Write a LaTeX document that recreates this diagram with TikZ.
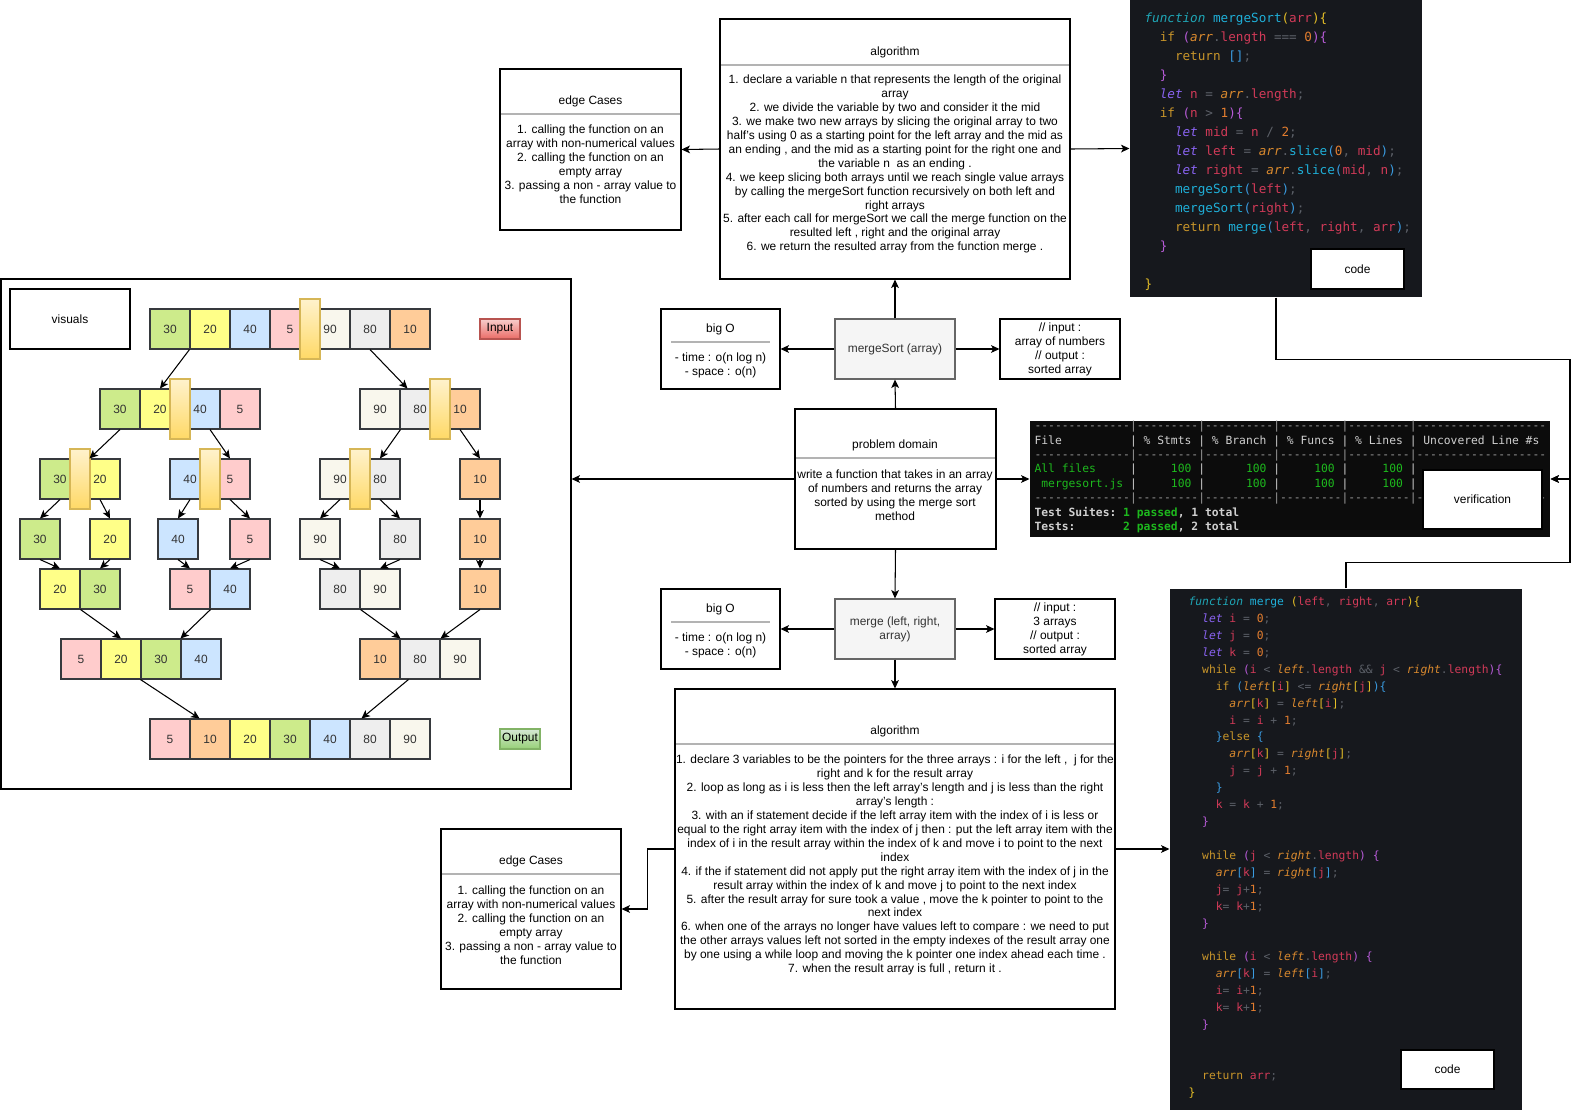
\documentclass[tikz,border=0pt]{standalone}
\usepackage{fontspec}
\setmainfont{Liberation Sans}
\setmonofont{DejaVu Sans Mono}
\usetikzlibrary{positioning,calc,fit,arrows.meta}

\definecolor{c30}{HTML}{CDEB8B}
\definecolor{c20}{HTML}{FFFF88}
\definecolor{c40}{HTML}{CCE5FF}
\definecolor{c5}{HTML}{FFCCCC}
\definecolor{c90}{HTML}{F9F7ED}
\definecolor{c80}{HTML}{EEEEEE}
\definecolor{c10}{HTML}{FFCC99}
\definecolor{cellline}{HTML}{36393D}
\definecolor{bartop}{HTML}{FFF2CC}
\definecolor{barbot}{HTML}{FFD966}
\definecolor{barline}{HTML}{D6B656}
\definecolor{intop}{HTML}{F8CECC}
\definecolor{inbot}{HTML}{EA6B66}
\definecolor{inedge}{HTML}{B85450}
\definecolor{outtop}{HTML}{D5E8D4}
\definecolor{outbot}{HTML}{97D077}
\definecolor{outedge}{HTML}{82B366}
\definecolor{fnfill}{HTML}{F5F5F5}
\definecolor{fnline}{HTML}{666666}
\definecolor{fntext}{HTML}{333333}
\definecolor{sepline}{HTML}{B3B3B3}
\definecolor{codebg}{HTML}{16181D}
\definecolor{tabbg}{HTML}{0C0C0C}
\definecolor{cfunc}{HTML}{1FA5B5}
\definecolor{cname}{HTML}{1FAFD8}
\definecolor{ckey}{HTML}{C8952A}
\definecolor{clet}{HTML}{8A63F2}
\definecolor{cvar}{HTML}{D13A58}
\definecolor{carr}{HTML}{D9892E}
\definecolor{cop}{HTML}{5C6068}
\definecolor{cnum}{HTML}{E27D2F}
\definecolor{cgold}{HTML}{E5BE27}
\definecolor{cpurp}{HTML}{B85BD8}
\definecolor{cblue}{HTML}{3A9BE0}
\definecolor{tgreen}{HTML}{1DB81D}
\definecolor{tdash}{HTML}{9A9A9A}
\definecolor{ttext}{HTML}{D0D0D0}

% code colouring
\newcommand{\kF}[1]{\textcolor{cfunc}{\itshape #1}}
\newcommand{\kN}[1]{\textcolor{cname}{#1}}
\newcommand{\kK}[1]{\textcolor{ckey}{#1}}
\newcommand{\kL}[1]{\textcolor{clet}{\itshape #1}}
\newcommand{\kV}[1]{\textcolor{cvar}{#1}}
\newcommand{\kA}[1]{\textcolor{carr}{\itshape #1}}
\newcommand{\kO}[1]{\textcolor{cop}{#1}}
\newcommand{\kD}[1]{\textcolor{cnum}{#1}}
\newcommand{\kY}[1]{\textcolor{cgold}{#1}}
\newcommand{\kP}[1]{\textcolor{cpurp}{#1}}
\newcommand{\kB}[1]{\textcolor{cblue}{#1}}
\newcommand{\indt}[1]{\hspace*{#1\fontcharwd\font`\x}}
\newcommand{\okg}[1]{\textcolor{tgreen}{#1}}
\ExplSyntaxOn
\NewDocumentCommand{\reps}{mm}{\prg_replicate:nn{#1}{#2}}
\ExplSyntaxOff
\newcommand{\dashrow}{\textcolor{tdash}{\reps{14}{{-}}|\reps{9}{{-}}|\reps{10}{{-}}|\reps{9}{{-}}|\reps{9}{{-}}|\reps{19}{{-}}}}

\begin{document}
\begin{tikzpicture}[x=0.02cm,y=-0.02cm,line width=0.6pt,
 font=\fontsize{6.8}{7.95}\selectfont,
 >={Stealth[length=4.8pt,width=4.4pt,inset=1.2pt]},
 box/.style={draw,fill=white,inner sep=0pt},
 fnbox/.style={draw=fnline,fill=fnfill,inner sep=0pt},
 txt/.style={align=center,inner sep=0pt},
 divider/.style={draw=sepline},
 cell/.style={draw=cellline,minimum size=0.8cm,inner sep=0pt,text=black!80},
 slicebar/.style={draw=barline,top color=bartop,bottom color=barbot,minimum width=0.4cm,minimum height=1.2cm,inner sep=0pt},
 lbltag/.style={draw,minimum width=0.8cm,minimum height=0.4cm,inner sep=0pt},
 codebox/.style={inner sep=0pt}]
\useasboundingbox (0,0) rectangle (1579,1110);

% mergeSort side
\node[box,fit={(500,69)(681,230)}] (edge1) {};
\node[txt] (edge1t) at (590.5,101) {edge Cases};
\draw[divider] (501,114) -- (680,114);
\node[txt] (edge1b) at (590.5,164) {1. calling the function on an\\array with non-numerical values\\2. calling the function on an\\empty array\\3. passing a non - array value to\\the function};

\node[box,fit={(720,19)(1070,279)}] (algo1) {};
\node[txt] (algo1t) at (895,52) {algorithm};
\draw[divider] (721,65) -- (1069,65);
\node[txt] (algo1b) at (895,164) {1. declare a variable n that represents the length of the original\\array\\2. we divide the variable by two and consider it the mid\\3. we make two new arrays by slicing the original array to two\\half's using 0 as a starting point for the left array and the mid as\\an ending , and the mid as a starting point for the right one and\\the variable n\ \ as an ending .\\4. we keep slicing both arrays until we reach single value arrays\\by calling the mergeSort function recursively on both left and\\right arrays\\5. after each call for mergeSort we call the merge function on the\\resulted left , right and the original array\\6. we return the resulted array from the function merge .};

\node[box,fit={(661,309)(780,389)}] (big1) {};
\node[txt] (big1t) at (720.5,329) {big O};
\draw[divider] (671,342) -- (770,342);
\node[txt] (big1b) at (720.5,365) {- time : o(n log n)\\- space : o(n)};

\node[fnbox,fit={(835,319)(955,379)}] (ms) {};
\node[txt,text=fntext] (mst) at (ms.center) {mergeSort (array)};
\node[box,fit={(1000,319)(1120,379)}] (io1) {};
\node[txt] (io1t) at (io1.center) {// input :\\array of numbers\\// output :\\sorted array};

\node[box,fit={(795,409)(996,549)}] (pd) {};
\node[txt] (pdt) at (895,445) {problem domain};
\draw[divider] (796,458) -- (995,458);
\node[txt] (pdb) at (895,495) {write a function that takes in an array\\of numbers and returns the array\\sorted by using the merge sort\\method};

% merge side
\node[box,fit={(661,589)(780,669)}] (big2) {};
\node[txt] (big2t) at (720.5,609) {big O};
\draw[divider] (671,622) -- (770,622);
\node[txt] (big2b) at (720.5,645) {- time : o(n log n)\\- space : o(n)};

\node[fnbox,fit={(835,599)(955,659)}] (mg) {};
\node[txt,text=fntext] (mgt) at (mg.center) {merge (left, right,\\array)};
\node[box,fit={(995,599)(1115,659)}] (io2) {};
\node[txt] (io2t) at (io2.center) {// input :\\3 arrays\\// output :\\sorted array};

\node[box,fit={(675,689)(1115,1009)}] (algo2) {};
\node[txt] (algo2t) at (895,731) {algorithm};
\draw[divider] (676,744) -- (1114,744);
\node[txt] (algo2b) at (895,865) {1. declare 3 variables to be the pointers for the three arrays : i for the left ,\ \ j for the\\right and k for the result array\\2. loop as long as i is less then the left array's length and j is less than the right\\array's length :\\3. with an if statement decide if the left array item with the index of i is less or\\equal to the right array item with the index of j then : put the left array item with the\\index of i in the result array within the index of k and move i to point to the next\\index\\4. if the if statement did not apply put the right array item with the index of j in the\\result array within the index of k and move j to point to the next index\\5. after the result array for sure took a value , move the k pointer to point to the\\next index\\6. when one of the arrays no longer have values left to compare : we need to put\\the other arrays values left not sorted in the empty indexes of the result array one\\by one using a while loop and moving the k pointer one index ahead each time .\\7. when the result array is full , return it .};

\node[box,fit={(441,829)(621,989)}] (edge2) {};
\node[txt] (edge2t) at (531,861) {edge Cases};
\draw[divider] (442,874) -- (620,874);
\node[txt] (edge2b) at (531,925) {1. calling the function on an\\array with non-numerical values\\2. calling the function on an\\empty array\\3. passing a non - array value to\\the function};

% code screenshots
\node[codebox,fill=codebg,fit={(1130,0)(1422,297)}] (code1) {};
\node[anchor=west,align=left,inner sep=0pt,font=\ttfamily\fontsize{7.2}{10.8}\selectfont] (src1) at (1144,152) {%
\kF{function} \kN{mergeSort}\kY{(}\kV{arr}\kY{)\{}\\
\indt{2}\kK{if} \kP{(}\kA{arr}\kO{.}\kV{length} \kO{===} \kD{0}\kP{)\{}\\
\indt{4}\kK{return} \kB{[]}\kO{;}\\
\indt{2}\kP{\}}\\
\indt{2}\kL{let} \kV{n} \kO{=} \kA{arr}\kO{.}\kV{length}\kO{;}\\
\indt{2}\kK{if} \kP{(}\kV{n} \kO{>} \kD{1}\kP{)\{}\\
\indt{4}\kL{let} \kV{mid} \kO{=} \kV{n} \kO{/} \kD{2}\kO{;}\\
\indt{4}\kL{let} \kV{left} \kO{=} \kA{arr}\kO{.}\kN{slice}\kB{(}\kD{0}\kO{,} \kV{mid}\kB{)}\kO{;}\\
\indt{4}\kL{let} \kV{right} \kO{=} \kA{arr}\kO{.}\kN{slice}\kB{(}\kV{mid}\kO{,} \kV{n}\kB{)}\kO{;}\\
\indt{4}\kN{mergeSort}\kB{(}\kV{left}\kB{)}\kO{;}\\
\indt{4}\kN{mergeSort}\kB{(}\kV{right}\kB{)}\kO{;}\\
\indt{4}\kK{return} \kN{merge}\kB{(}\kV{left}\kO{,} \kV{right}\kO{,} \kV{arr}\kB{)}\kO{;}\\
\indt{2}\kP{\}}\\
\mbox{}\\
\kY{\}}};
\node[box,fit={(1311,249)(1404,289)}] (code1l) {};
\node[txt] (code1lt) at (code1l.center) {code};

\node[codebox,fill=codebg,fit={(1170,589)(1522,1110)}] (code2) {};
\node[anchor=west,align=left,inner sep=0pt,font=\ttfamily\fontsize{6.45}{9.63}\selectfont] (src2) at (1188,847.5) {%
\kF{function} \kN{merge} \kY{(}\kV{left}\kO{,} \kV{right}\kO{,} \kV{arr}\kY{)\{}\\
\indt{2}\kL{let} \kV{i} \kO{=} \kD{0}\kO{;}\\
\indt{2}\kL{let} \kV{j} \kO{=} \kD{0}\kO{;}\\
\indt{2}\kL{let} \kV{k} \kO{=} \kD{0}\kO{;}\\
\indt{2}\kK{while} \kP{(}\kV{i} \kO{<} \kA{left}\kO{.}\kV{length} \kO{\&\&} \kV{j} \kO{<} \kA{right}\kO{.}\kV{length}\kP{)\{}\\
\indt{4}\kK{if} \kB{(}\kA{left}\kY{[}\kV{i}\kY{]} \kO{<=} \kA{right}\kY{[}\kV{j}\kY{]}\kB{)\{}\\
\indt{6}\kA{arr}\kY{[}\kV{k}\kY{]} \kO{=} \kA{left}\kY{[}\kV{i}\kY{]}\kO{;}\\
\indt{6}\kV{i} \kO{=} \kV{i} \kO{+} \kD{1}\kO{;}\\
\indt{4}\kB{\}}\kK{else} \kB{\{}\\
\indt{6}\kA{arr}\kY{[}\kV{k}\kY{]} \kO{=} \kA{right}\kY{[}\kV{j}\kY{]}\kO{;}\\
\indt{6}\kV{j} \kO{=} \kV{j} \kO{+} \kD{1}\kO{;}\\
\indt{4}\kB{\}}\\
\indt{4}\kV{k} \kO{=} \kV{k} \kO{+} \kD{1}\kO{;}\\
\indt{2}\kP{\}}\\
\mbox{}\\
\indt{2}\kK{while} \kP{(}\kV{j} \kO{<} \kA{right}\kO{.}\kV{length}\kP{)} \kP{\{}\\
\indt{4}\kA{arr}\kB{[}\kV{k}\kB{]} \kO{=} \kA{right}\kB{[}\kV{j}\kB{]}\kO{;}\\
\indt{4}\kV{j}\kO{=} \kV{j}\kO{+}\kD{1}\kO{;}\\
\indt{4}\kV{k}\kO{=} \kV{k}\kO{+}\kD{1}\kO{;}\\
\indt{2}\kP{\}}\\
\mbox{}\\
\indt{2}\kK{while} \kP{(}\kV{i} \kO{<} \kA{left}\kO{.}\kV{length}\kP{)} \kP{\{}\\
\indt{4}\kA{arr}\kB{[}\kV{k}\kB{]} \kO{=} \kA{left}\kB{[}\kV{i}\kB{]}\kO{;}\\
\indt{4}\kV{i}\kO{=} \kV{i}\kO{+}\kD{1}\kO{;}\\
\indt{4}\kV{k}\kO{=} \kV{k}\kO{+}\kD{1}\kO{;}\\
\indt{2}\kP{\}}\\
\mbox{}\\
\mbox{}\\
\indt{2}\kK{return} \kV{arr}\kO{;}\\
\kY{\}}};
\node[box,fit={(1401,1050)(1494,1089)}] (code2l) {};
\node[txt] (code2lt) at (code2l.center) {code};

% test coverage
\node[codebox,fill=tabbg,fit={(1030,421)(1550,537)}] (tab) {};
\node[anchor=west,align=left,inner sep=0pt,text=ttext,font=\ttfamily\fontsize{6.45}{8.2}\selectfont] (tabtxt) at (1034,477) {%
\dashrow\\
File\reps{10}{~}|~\%~Stmts~|~\%~Branch~|~\%~Funcs~|~\%~Lines~|~Uncovered~Line~\#s\\
\dashrow\\
\okg{All~files}\reps{5}{~}|\reps{5}{~}\okg{100}~|\reps{6}{~}\okg{100}~|\reps{5}{~}\okg{100}~|\reps{5}{~}\okg{100}~|\\
\mbox{}~\okg{mergesort.js}~|\reps{5}{~}\okg{100}~|\reps{6}{~}\okg{100}~|\reps{5}{~}\okg{100}~|\reps{5}{~}\okg{100}~|\\
\dashrow\\
{\bfseries Test~Suites:~\okg{1~passed},~1~total}\\
{\bfseries Tests:\reps{7}{~}\okg{2~passed},~2~total}};
\node[box,fit={(1423,470)(1542,529)}] (verif) {};
\node[txt] (veriftxt) at (verif.center) {verification};

% visuals
\node[box,fit={(1,279)(571,789)}] (vis) {};
\node[box,fit={(10,289)(130,349)}] (visl) {};
\node[txt] (vislt) at (visl.center) {visuals};
\foreach \nm/\xo/\yo/\vals in {ip/150/329/{30,20,40,5,90,80,10},la/100/409/{30,20,40,5},ra/360/409/{90,80,10},
  lla/40/479/{30,20},lra/170/479/{40,5},rla/320/479/{90,80},rra/460/479/{10},
  ma/40/589/{20,30},mb/170/589/{5,40},mc/320/589/{80,90},md/460/589/{10},
  na/61/659/{5,20,30,40},nb/360/659/{10,80,90},op/150/739/{5,10,20,30,40,80,90}}
  \foreach \v [count=\i] in \vals
    \node[cell,fill=c\v] (\nm\i) at (\xo+40*\i-20,\yo) {\v};
\foreach \v/\xc [count=\i] in {30/40,20/110,40/178,5/250,90/320,80/400,10/480}
  \node[cell,fill=c\v] (s\i) at (\xc,539) {\v};
\foreach \xc/\yc [count=\i] in {310/329,180/409,440/409,80/479,210/479,360/479}
  \node[slicebar] (cut\i) at (\xc,\yc) {};
\node[lbltag,draw=inedge,top color=intop,bottom color=inbot] (inlbl) at (500,329) {Input};
\node[lbltag,draw=outedge,top color=outtop,bottom color=outbot] (outlbl) at (520,739) {Output};

\draw[->] (ip2.south west) -- (la2.north);
\draw[->] (ip6.south) -- ($(ra2.north west)+(8,0)$);
\draw[->] (la1.south) -- ($(lla2.north west)+(10,0)$);
\draw[->] ($(la3.south)+(10,0)$) -- (lra2.north);
\draw[->] (ra1.south east) -- (rla2.north);
\foreach \a/\b in {ra3/rra1,lla1/s1,lla2/s2,lra1/s3,lra2/s4,rla1/s5,rla2/s6,rra1/s7,
  s1/ma1,s2/ma2,s3/mb1,s4/mb2,s5/mc1,s6/mc2,s7/md1}
  \draw[->] (\a.south) -- (\b.north);
\draw[->] (ma1.south east) -- (na2.north);
\draw[->] (mb1.south east) -- (na4.north west);
\draw[->] (mc1.south east) -- (nb1.north east);
\draw[->] (md1.south) -- (nb2.north east);
\draw[->] (na3.south west) -- ($(op1.north east)+(9,0)$);
\draw[->] ($(nb2.south west)+(9,0)$) -- ($(op6.north west)+(12,0)$);

% connectors
\draw[->] (algo1.west) -- (edge1.east);
\draw[->] (algo1.east) -- (code1.west);
\draw[->] (ms.north) -- (algo1.south);
\draw[->] (ms.west) -- (big1.east);
\draw[->] (ms.east) -- (io1.west);
\draw[->] (pd.north) -- (ms.south);
\draw[->] (pd.south) -- (mg.north);
\draw[->] (pd.west) -- (pd.west -| vis.east);
\draw[->] (pd.east) -- (tab.west);
\draw[->] (mg.west) -- (big2.east);
\draw[->] (mg.east) -- (io2.west);
\draw[->] (mg.south) -- (algo2.north);
\draw[->] (algo2.east) -- (algo2.east -| code2.west);
\draw[->] (algo2.west) -- ++(-27,0) |- (edge2.east);
\coordinate (vx) at (1570,479);
\draw[->] (code1.south) -- ++(0,62) -| (vx) -- (tab.east);
\draw[->] (code2.north) -- ++(0,-26) -| (vx) -- (tab.east);
\end{tikzpicture}
\end{document}
